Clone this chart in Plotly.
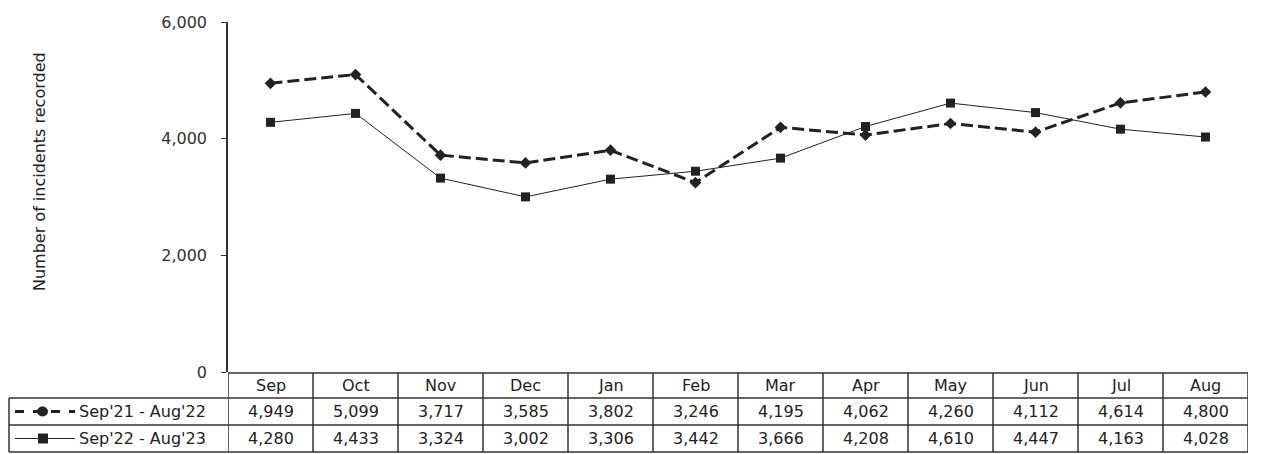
import plotly.graph_objects as go

months = ["Sep", "Oct", "Nov", "Dec", "Jan", "Feb", "Mar", "Apr", "May", "Jun", "Jul", "Aug"]
series1_name = "Sep'21 - Aug'22"
series1 = [4949, 5099, 3717, 3585, 3802, 3246, 4195, 4062, 4260, 4112, 4614, 4800]
series2_name = "Sep'22 - Aug'23"
series2 = [4280, 4433, 3324, 3002, 3306, 3442, 3666, 4208, 4610, 4447, 4163, 4028]
y_ticks = [0, 2000, 4000, 6000]

OFF = 8  # page body margin
W, H = 1269 - OFF, 454 - OFF
L, T = 228 - OFF, 22 - OFF
R = W - (1248 - OFF)
B = H - (372 - OFF)
PW = W - L - R
PH = H - T - B
FONT = "DejaVu Sans, Verdana, sans-serif"
INK = "#222222"


def px(xp):
    """reference page x pixel -> paper coordinate"""
    return (xp - OFF - L) / PW


def py(yp):
    """reference page y pixel -> paper coordinate"""
    return (H - B - (yp - OFF)) / PH


fig = go.Figure()
fig.add_trace(go.Scatter(
    x=months, y=series1, mode="lines+markers", name=series1_name,
    line=dict(color=INK, width=3, dash="12px,5px"),
    marker=dict(symbol="diamond", size=9, color=INK),
))
fig.add_trace(go.Scatter(
    x=months, y=series2, mode="lines+markers", name=series2_name,
    line=dict(color=INK, width=1),
    marker=dict(symbol="square", size=9, color=INK),
))

shapes = []
annotations = []

row_lines = [373, 398, 425, 452]
n = len(months)
BORDER = dict(color="#333333", width=1.5)
shapes.append(dict(type="line", xref="paper", yref="paper", x0=px(228), x1=px(1248),
                   y0=py(row_lines[0]), y1=py(row_lines[0]), line=BORDER))
for yl in row_lines[1:]:
    shapes.append(dict(type="line", xref="paper", yref="paper", x0=px(9), x1=px(1248),
                       y0=py(yl), y1=py(yl), line=BORDER))
for i in range(n + 1):
    shapes.append(dict(type="line", xref="x", yref="paper", x0=i - 0.5, x1=i - 0.5,
                       y0=py(row_lines[0]), y1=py(row_lines[-1]), line=BORDER))
shapes.append(dict(type="line", xref="paper", yref="paper", x0=px(9), x1=px(9),
                   y0=py(row_lines[1]), y1=py(row_lines[-1]), line=BORDER))

row_values = [months, [f"{v:,}" for v in series1], [f"{v:,}" for v in series2]]
for r, vals in enumerate(row_values):
    yc = py((row_lines[r] + row_lines[r + 1]) / 2)
    for i, t in enumerate(vals):
        annotations.append(dict(x=i, y=yc, xref="x", yref="paper", text=t, showarrow=False,
                                font=dict(family=FONT, size=16, color=INK),
                                xanchor="center", yanchor="middle"))

legend_rows = [(series1_name, "dash", 3, "circle"), (series2_name, "solid", 1.2, "square")]
for k, (name, dash, w, sym) in enumerate(legend_rows):
    yc_px = (row_lines[k + 1] + row_lines[k + 2]) / 2
    yc = py(yc_px)
    shapes.append(dict(type="line", xref="paper", yref="paper", x0=px(15), x1=px(75),
                       y0=yc, y1=yc, line=dict(color=INK, width=w, dash=dash)))
    if sym == "circle":
        shapes.append(dict(type="circle", xref="paper", yref="paper", x0=px(37), x1=px(48),
                           y0=py(yc_px + 5), y1=py(yc_px - 5), fillcolor=INK, line=dict(color=INK, width=0)))
    else:
        shapes.append(dict(type="rect", xref="paper", yref="paper", x0=px(38), x1=px(48),
                           y0=py(yc_px + 5), y1=py(yc_px - 5), fillcolor=INK, line=dict(color=INK, width=0)))
    annotations.append(dict(x=px(77), y=yc, xref="paper", yref="paper", text=name, showarrow=False,
                            font=dict(family=FONT, size=16, color=INK), xanchor="left", yanchor="middle"))

annotations.append(dict(x=px(39), y=py(172), xref="paper", yref="paper",
                        text="Number of incidents recorded", textangle=-90, showarrow=False,
                        font=dict(family=FONT, size=16, color=INK), xanchor="center", yanchor="middle"))

fig.update_layout(
    width=W, height=H,
    margin=dict(l=L, r=R, t=T, b=B, autoexpand=False),
    paper_bgcolor="white", plot_bgcolor="white",
    showlegend=False,
    shapes=shapes, annotations=annotations,
    font=dict(family=FONT, color=INK),
)
fig.update_xaxes(range=[-0.5, n - 0.5], showticklabels=False, showgrid=False, zeroline=False,
                 showline=False, ticks="", automargin=False)
fig.update_yaxes(range=[0, 6000], tickvals=y_ticks, tickformat=",", showgrid=False, zeroline=False,
                 showline=True, linecolor="#333333", linewidth=1.5, ticks="outside", ticklen=5,
                 tickcolor="#333333", ticklabelstandoff=11, automargin=False,
                 tickfont=dict(family=FONT, size=16, color="#333333"))

fig.write_html("out.html")
